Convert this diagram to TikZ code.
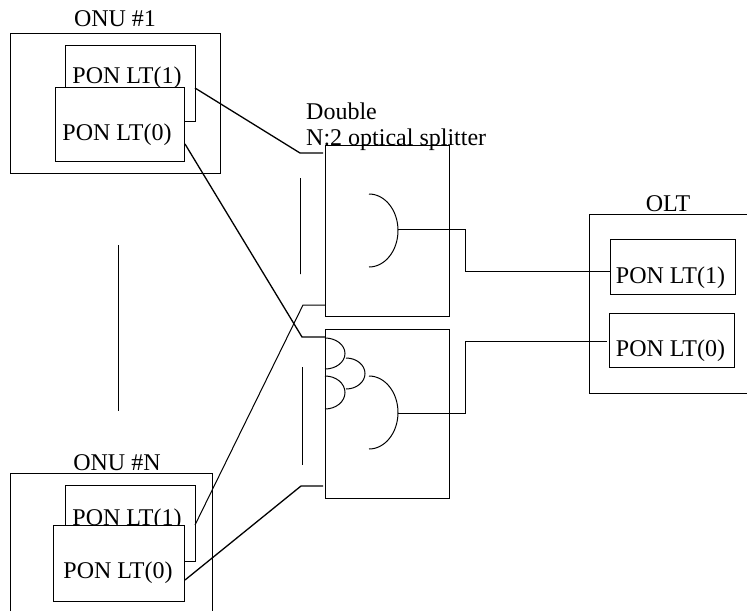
\documentclass[tikz,border=0pt]{standalone}
\usepackage{fontspec}
\setmainfont{Liberation Serif}
\tikzset{
  boxed/.style={draw,line width=1pt,fill=white,inner sep=0pt},
  title/.style={inner sep=0pt,font=\fontsize{24}{24}\selectfont},
  fibre/.style={line width=1.3pt},
  thinfibre/.style={line width=1pt},
  curve/.style={line width=1pt},
  gap/.style={line width=1pt,dash pattern=on 5.5pt off 0.5pt}
}
\begin{document}
\begin{tikzpicture}[x=1pt,y=-1pt]
  \useasboundingbox (0,0) rectangle (747,611);
  % first ONU
  \node[boxed,minimum width=210pt,minimum height=140pt] (onufirst) at (115,103) {};
  \node[boxed,minimum width=130pt,minimum height=76pt] (onufirsthigh) at (130,83) {};
  \node[boxed,minimum width=129.5pt,minimum height=74pt] (onufirstlow) at (119.75,124) {};
  \node[title] (onufirsttitle) at (115,19) {ONU \#1};
  \node[title] (onufirsthightext) at (127,78) {PON LT(1)};
  \node[title] (onufirstlowtext) at (117,135) {PON LT(0)};
  % last ONU, runs off the page
  \draw[line width=1pt] (10,611) -- (10,473) -- (212,473) -- (212,611);
  \node[boxed,minimum width=130pt,minimum height=76pt] (onulasthigh) at (130,523) {};
  \node[title] (onulasthightext) at (127,519.5) {PON LT(1)};
  \node[boxed,minimum width=131.5pt,minimum height=76pt] (onulastlow) at (118.75,563) {};
  \node[title] (onulasttitle) at (117,463) {ONU \#N};
  \node[title] (onulastlowtext) at (118,573) {PON LT(0)};
  % splitter
  \node[boxed,fill=none,minimum width=124pt,minimum height=171pt] (splitup) at (387,230.5) {};
  \node[boxed,fill=none,minimum width=124pt,minimum height=169pt] (splitdown) at (387,413.5) {};
  \node[title,anchor=west] (splitname) at (306,111) {Double};
  \node[title,anchor=west] (splittype) at (306,140) {N:2 optical splitter};
  \draw[curve] (369,194) arc[start angle=-90,end angle=90,x radius=29,y radius=36.5];
  \draw[curve] (369,376) arc[start angle=-90,end angle=90,x radius=29,y radius=36.5];
  \draw[curve] (325,338) arc[start angle=-90,end angle=90,x radius=20,y radius=15.5];
  \draw[curve] (346,358) arc[start angle=-90,end angle=90,x radius=19,y radius=15.5];
  \draw[curve] (325,376) arc[start angle=-90,end angle=90,x radius=20,y radius=16.5];
  % OLT, runs off the page
  \draw[line width=1pt] (747,214) -- (589,214) -- (589,393) -- (747,393);
  \node[boxed,minimum width=125pt,minimum height=55pt] (olthigh) at (672.5,266.5) {};
  \node[boxed,minimum width=125pt,minimum height=54pt] (oltlow) at (671.5,340) {};
  \node[title] (olttitle) at (668,204) {OLT};
  \node[title] (olthightext) at (670.5,278) {PON LT(1)};
  \node[title] (oltlowtext) at (670.5,351) {PON LT(0)};
  % ends of the fibres
  \coordinate (firsthighout) at (195,88);
  \coordinate (firstlowout) at (185,144);
  \coordinate (lasthighout) at (195,525);
  \coordinate (lastlowout) at (185,580);
  \coordinate (bendfirsthigh) at (300,153);
  \coordinate (bendfirstlow) at (302,337);
  \coordinate (bendlasthigh) at (303,305);
  \coordinate (bendlastlow) at (301,486);
  \coordinate (upin) at (323,153);
  \coordinate (upsecond) at (325,305);
  \coordinate (downin) at (325,337);
  \coordinate (downsecond) at (323,486);
  \coordinate (upout) at (398,229);
  \coordinate (downout) at (398,413);
  \coordinate (olthighin) at (610,271);
  \coordinate (oltlowin) at (607,341);
  \draw[fibre] (firsthighout) -- (bendfirsthigh) -- (upin);
  \draw[fibre] (firstlowout) -- (bendfirstlow) -- (downin);
  \draw[thinfibre] (lasthighout) -- (bendlasthigh) -- (upsecond);
  \draw[fibre] (lastlowout) -- (bendlastlow) -- (downsecond);
  \draw[thinfibre] (upout) -- (465,229) -- (465,271) -- (olthighin);
  \draw[thinfibre] (downout) -- (465,413) -- (465,341) -- (oltlowin);
  % more ONUs in between
  \draw[gap] (118,245) -- (118,411);
  \draw[gap] (300,178) -- (300,274);
  \draw[gap] (302,367) -- (302,465);
\end{tikzpicture}
\end{document}
